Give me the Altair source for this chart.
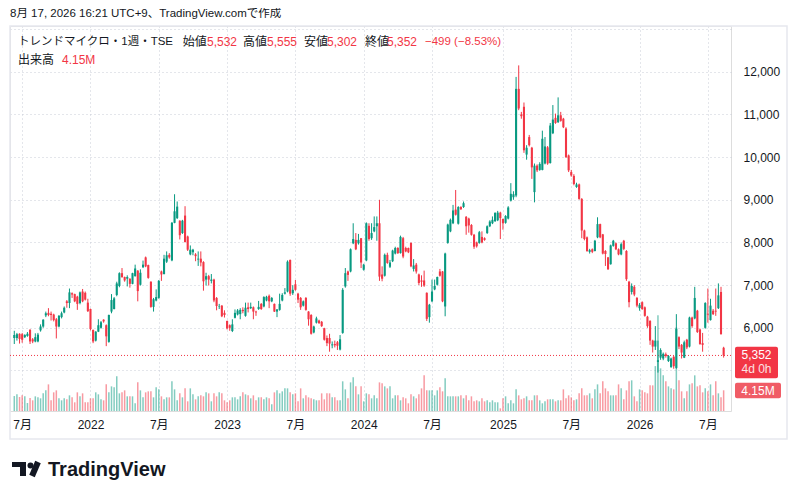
import altair as alt
import pandas as pd

# ---------------- data: weekly OHLC (open, high, low, close) from week of 2021-06-14 ----------------
ohlc_2021 = [
    (5760, 5930, 5620, 5830), (5760, 5880, 5700, 5850), (5860, 5870, 5630, 5740), (5850, 5880, 5650, 5720),
    (5780, 5850, 5760, 5830), (5810, 5900, 5790, 5860), (5950, 5970, 5620, 5680), (5730, 5760, 5640, 5680),
    (5680, 5870, 5660, 5780), (5680, 5880, 5660, 5840), (5940, 6080, 5910, 6030), (6030, 6200, 6000, 6190),
    (6290, 6380, 6250, 6340), (6350, 6460, 6270, 6300), (6330, 6380, 6170, 6300), (6310, 6330, 6150, 6180),
    (6200, 6230, 5750, 6030), (6030, 6300, 6010, 6280), (6250, 6380, 6220, 6340), (6360, 6500, 6340, 6470),
    (6620, 6650, 6470, 6580), (6580, 6920, 6460, 6830), (6810, 6830, 6700, 6780), (6790, 6800, 6600, 6620),
    (6730, 6750, 6420, 6560), (6580, 6850, 6550, 6830), (6850, 6910, 6600, 6620), (6820, 6850, 6640, 6660),
    (6590, 6680, 6370, 6390),
]
ohlc_2022 = [
    (6440, 6450, 5940, 5970), (5950, 5960, 5640, 5680), (5700, 5920, 5680, 5910), (5910, 6200, 5900, 6060),
    (6000, 6160, 5980, 6130), (6190, 6200, 6120, 6150), (6060, 6080, 5570, 5800), (5670, 6310, 5650, 6300),
    (6380, 6790, 6340, 6650), (6440, 6720, 6430, 6690), (6770, 7080, 6740, 7040), (6980, 7300, 6950, 7280),
    (7280, 7400, 7170, 7190), (7190, 7200, 7080, 7110), (7150, 7230, 6970, 7190), (7150, 7160, 6940, 7030),
    (7030, 7290, 7020, 7280), (7210, 7480, 7200, 7390), (7340, 7350, 6620, 6860), (7010, 7370, 6990, 7290),
    (7420, 7575, 7400, 7480), (7650, 7670, 7420, 7440), (7470, 7480, 7150, 7170), (7080, 7090, 6470, 6490),
    (6490, 6700, 6380, 6670), (6640, 6900, 6620, 6720), (6700, 7120, 6680, 7100), (7320, 7340, 7100, 7250),
    (7260, 7710, 7250, 7620), (7550, 7790, 7520, 7700), (7710, 7750, 7620, 7650), (7580, 8480, 7560, 8460),
    (8460, 9130, 8450, 8730), (8570, 8960, 8550, 8840), (8510, 8520, 8070, 8170), (8220, 8530, 8200, 8510),
    (8630, 8850, 8000, 8010), (8140, 8160, 7800, 7830), (7720, 7930, 7700, 7830), (7770, 7850, 7700, 7830),
    (7720, 7750, 7560, 7680), (7600, 7790, 7450, 7620), (7620, 7790, 7440, 7530), (7540, 7560, 6870, 7090),
    (7130, 7290, 6990, 7210), (7210, 7240, 6990, 7130), (7100, 7260, 7040, 7130), (7130, 7150, 6600, 6640),
    (6700, 6720, 6410, 6510), (6490, 6560, 6440, 6500), (6520, 6530, 6250, 6270), (6350, 6410, 6240, 6300),
]
ohlc_2023 = [
    (6160, 6170, 5960, 5985), (6060, 6080, 5930, 6000), (5925, 6200, 5900, 6080), (6234, 6430, 6220, 6350),
    (6312, 6440, 6290, 6406), (6320, 6460, 6200, 6420), (6420, 6480, 6340, 6390), (6280, 6590, 6260, 6470),
    (6480, 6590, 6360, 6440), (6460, 6590, 6440, 6490), (6480, 6500, 6200, 6380), (6380, 6400, 6280, 6360),
    (6440, 6630, 6420, 6490), (6560, 6580, 6420, 6440), (6500, 6740, 6480, 6720), (6640, 6750, 6620, 6730),
    (6750, 6780, 6460, 6620), (6620, 6720, 6600, 6700), (6560, 6570, 6370, 6380), (6380, 6440, 6250, 6430),
    (6420, 6800, 6400, 6560), (6640, 6810, 6620, 6770), (6800, 6930, 6780, 6830), (6850, 7580, 6830, 7550),
    (7590, 7600, 6750, 6800), (6810, 7000, 6770, 6890), (7020, 7120, 6870, 6890), (6800, 6820, 6580, 6660),
    (6700, 6720, 6420, 6480), (6520, 6640, 6500, 6620), (6700, 6720, 6400, 6420), (6380, 6390, 6050, 6200),
    (6300, 6320, 5840, 5860), (5890, 6050, 5870, 6030), (6120, 6260, 6100, 6220), (6170, 6190, 6090, 6110),
    (6140, 6160, 6020, 6040), (5990, 6000, 5700, 5720), (5760, 5820, 5570, 5640), (5760, 5860, 5440, 5630),
    (5590, 5680, 5520, 5610), (5620, 5700, 5540, 5590), (5660, 5690, 5480, 5580), (5490, 5830, 5470, 5730),
    (5880, 6930, 5860, 6890), (6970, 7400, 6940, 7280), (7320, 7340, 7100, 7240), (7320, 7860, 7300, 7840),
    (7980, 8450, 7960, 8080), (8060, 8220, 7820, 7840), (7980, 8200, 7950, 8060), (8100, 8100, 7400, 7530),
]
ohlc_2024 = [
    (7360, 7500, 7340, 7480), (7580, 8470, 7560, 8450), (8390, 8450, 8040, 8080), (8100, 8450, 8060, 8220),
    (8260, 8610, 8240, 8360), (8380, 8610, 8040, 8450), (8450, 9000, 7100, 7200), (7250, 7440, 7090, 7150),
    (7220, 7740, 7200, 7710), (7710, 7760, 7500, 7520), (7430, 7590, 7400, 7530), (7560, 7830, 7540, 7810),
    (7740, 7900, 7720, 7870), (7870, 7890, 7730, 7750), (7750, 8160, 7740, 8130), (8100, 8130, 7630, 7670),
    (7870, 7900, 7770, 7790), (7870, 7880, 7750, 7770), (7990, 8000, 7420, 7440), (7380, 7610, 7320, 7460),
    (7480, 7520, 7270, 7320), (7250, 7270, 7000, 7050), (7110, 7230, 6960, 7080), (7110, 7340, 6960, 6990),
    (6820, 6830, 6160, 6210), (6250, 6560, 6120, 6540), (6620, 7130, 6600, 6850), (6900, 7130, 6880, 6980),
    (7010, 7200, 6990, 7190), (7320, 7380, 7200, 7220), (7320, 7330, 6600, 6620), (6500, 7760, 6270, 7740),
    (7990, 8440, 7970, 8420), (8260, 8560, 8240, 8530), (8450, 8880, 8430, 8750), (8770, 9230, 8630, 8650),
    (8440, 8850, 8420, 8830), (8830, 8850, 8760, 8780), (8830, 8960, 8810, 8920), (8600, 8620, 8180, 8380),
    (8560, 8580, 8230, 8400), (8410, 8430, 8160, 8180), (8180, 8200, 7850, 7900), (8000, 8020, 7880, 7910),
    (7990, 8270, 7970, 8240), (8130, 8260, 7980, 8000), (8100, 8120, 8040, 8060), (8220, 8400, 8200, 8380),
    (8380, 8520, 8360, 8490), (8450, 8610, 8430, 8530), (8500, 8710, 8480, 8690), (8520, 8740, 8500, 8700),
    (8700, 8720, 8080, 8570),
]
ohlc_2025 = [
    (8550, 8560, 8300, 8450), (8460, 8640, 8440, 8620), (8560, 8850, 8540, 8820), (8980, 9390, 8960, 9140),
    (9060, 9200, 9000, 9130), (9100, 11880, 9060, 11600), (11600, 12150, 11100, 11140), (11000, 11060, 10900, 10960),
    (11180, 11280, 10100, 10160), (10060, 10280, 9940, 10220), (10470, 10520, 10250, 10280), (10220, 10240, 9490, 9760),
    (9180, 9850, 8940, 9800), (9800, 9830, 9650, 9690), (9700, 9880, 9680, 9840), (9700, 10620, 9690, 10430),
    (9850, 10470, 9830, 10250), (10230, 10260, 9820, 9850), (9860, 10800, 9850, 10740), (10560, 11220, 10540, 10880),
    (10920, 11020, 10780, 10800), (10820, 11400, 10800, 10980), (10980, 11060, 10830, 10850), (10900, 10920, 10680, 10700),
    (10670, 10700, 9980, 10000), (10040, 10060, 9650, 9690), (9650, 9700, 9540, 9570), (9560, 9600, 9340, 9370),
    (9300, 9400, 9280, 9360), (9360, 9380, 9000, 9020), (9020, 9040, 8100, 8280), (8280, 8300, 8050, 8080),
    (8120, 8140, 7780, 7800), (7780, 7850, 7740, 7820), (7840, 7860, 7750, 7780), (7800, 8060, 7790, 8040),
    (8120, 8590, 8100, 8430), (8430, 8440, 8100, 8120), (8190, 8200, 7720, 7740), (7800, 7820, 7450, 7730),
    (7650, 7660, 7360, 7370), (7490, 7950, 7480, 7930), (7920, 8060, 7900, 8040), (7980, 8000, 7820, 7840),
    (7840, 7860, 7700, 7720), (7720, 8000, 7700, 7960), (8040, 8060, 7820, 7850), (7800, 7820, 7100, 7140),
    (7080, 7100, 6480, 6600), (6840, 7040, 6780, 6980), (6960, 7000, 6740, 6780), (6700, 6720, 6480, 6520),
]
ohlc_2026 = [
    (6460, 6580, 6400, 6540), (6600, 6620, 6420, 6440), (6480, 6500, 6260, 6280), (6260, 6280, 6000, 6040),
    (6160, 6180, 5600, 5700), (5700, 5720, 5420, 5560), (5560, 6040, 5480, 5700), (5200, 5700, 4950, 5240),
    (5300, 5520, 5250, 5480), (5280, 5420, 5240, 5390), (5380, 5420, 5300, 5340), (5220, 5360, 5200, 5340),
    (5080, 5300, 5060, 5280), (5320, 5340, 5040, 5100), (5060, 6320, 5040, 5980), (5780, 5800, 5500, 5560),
    (5600, 5620, 5280, 5420), (5300, 5700, 5290, 5660), (5720, 5740, 5500, 5540), (5560, 6260, 5540, 6240),
    (6240, 6260, 6000, 6040), (6220, 6960, 6200, 6700), (6400, 6420, 5880, 5900), (5960, 5980, 5600, 5620),
    (5640, 5880, 5440, 5600), (6000, 6600, 5980, 6580), (6330, 6920, 6120, 6310), (6180, 6680, 6170, 6520),
    (6400, 6440, 6300, 6320), (6400, 6920, 6280, 6380), (6460, 7040, 6440, 6760), (6840, 6960, 5840, 5851),
    (5532, 5555, 5302, 5352),
]

# weekly volume, millions of shares
vol_2021 = [3.0, 3.34, 2.81, 3.14, 2.94, 1.60, 2.61, 2.14, 2.94, 2.74, 2.54, 3.54, 4.14, 5.34, 2.14,
            3.74, 4.14, 2.54, 2.14, 2.54, 2.34, 3.14, 2.74, 1.74, 3.74, 2.94, 3.54, 1.74, 1.74]
vol_2022 = [2.54, 2.54, 3.74, 3.34, 2.34, 2.14, 5.34, 3.74, 4.94, 4.74,
            6.95, 3.54, 3.74, 4.14, 2.94, 2.94, 2.94, 1.54, 5.74, 4.14,
            2.74, 3.74, 3.94, 3.94, 2.74, 4.74, 4.34, 2.94, 2.34, 2.74,
            2.74, 5.95, 4.34, 2.14, 3.54, 2.74, 4.54, 1.94, 4.54, 3.34,
            2.34, 2.94, 3.14, 2.94, 3.74, 3.54, 1.94, 3.54, 2.94, 3.74,
            3.54, 2.14]
vol_2023 = [1.74, 2.14, 2.74, 2.74, 2.34, 2.94, 3.74, 3.34, 3.14, 2.54,
            3.14, 2.14, 2.74, 2.74, 2.34, 2.74, 2.54, 1.34, 3.74, 4.14,
            3.54, 3.94, 4.54, 4.54, 3.74, 3.34, 3.54, 1.94, 4.54, 2.54,
            3.14, 2.74, 2.54, 2.34, 2.14, 2.14, 3.54, 2.34, 3.54, 3.54,
            2.74, 2.74, 2.14, 2.14, 5.95, 4.34, 2.54, 5.74, 6.75, 4.94,
            3.34, 4.94]
vol_2024 = [1.94, 3.54, 3.34, 2.54, 3.14, 2.54, 5.74, 5.54, 4.94, 4.54,
            4.94, 2.54, 3.14, 3.14, 2.14, 2.74, 2.54, 1.54, 3.34, 2.94,
            2.54, 3.34, 4.54, 7.15, 4.14, 4.14, 4.14, 3.14, 4.14, 4.74,
            3.94, 6.55, 2.94, 2.94, 2.94, 2.94, 2.94, 3.14, 2.54, 3.14,
            2.14, 2.94, 1.94, 2.14, 1.94, 2.54, 1.94, 2.14, 1.74, 2.14,
            1.74, 1.74, 0.53]
vol_2025 = [2.54, 2.94, 1.54, 2.14, 1.54, 4.34, 3.14, 2.34, 2.54, 2.94,
            2.14, 2.14, 3.14, 3.14, 2.14, 1.54, 1.94, 2.34, 2.34, 2.34,
            1.94, 2.14, 2.14, 4.34, 2.54, 3.14, 2.74, 2.14, 2.34, 3.54,
            4.54, 3.14, 3.14, 3.54, 2.54, 4.34, 5.34, 3.54, 5.95, 4.54,
            3.94, 3.14, 3.14, 3.14, 5.34, 4.54, 2.34, 4.14, 5.95, 6.15,
            2.94, 1.94]
vol_2026 = [4.34, 4.14, 3.74, 3.54, 5.14, 5.14, 9.0, 19.2, 8.55, 7.15,
            5.95, 4.94, 4.54, 4.34, 16.8, 6.15, 3.94, 2.54, 3.94, 5.34,
            5.54, 7.15, 4.94, 5.14, 3.74, 4.54, 3.94, 5.34, 3.14, 5.95,
            3.54, 2.74, 4.15]

first_week = "2021-06-14"
caption = "8月 17, 2026 16:21 UTC+9、TradingView.comで作成"
symbol_title = "トレンドマイクロ・1週・TSE"
price_ticks = [5000, 6000, 7000, 8000, 9000, 10000, 11000, 12000, 13000]

# ---------------- table ----------------
rows = ohlc_2021 + ohlc_2022 + ohlc_2023 + ohlc_2024 + ohlc_2025 + ohlc_2026
vols = vol_2021 + vol_2022 + vol_2023 + vol_2024 + vol_2025 + vol_2026
df = pd.DataFrame(rows, columns=["open", "high", "low", "close"])
df["vol"] = vols
df["i"] = range(len(df))
df["date"] = pd.date_range(first_week, periods=len(df), freq="7D")
df["dir"] = ["up" if c >= o else "down" for o, c in zip(df["open"], df["close"])]

# time ticks: first weekly bar of January / July
tick_idx, tick_lab, seen = [], [], set()
for i, d in zip(df["i"], df["date"]):
    if d.month in (1, 7) and (d.year, d.month) not in seen:
        seen.add((d.year, d.month))
        tick_idx.append(int(i))
        tick_lab.append(str(d.year) if d.month == 1 else "7月")
label_expr = "''"
for idx, lab in reversed(list(zip(tick_idx, tick_lab))):
    label_expr = f"datum.value == {idx} ? '{lab}' : ({label_expr})"

UP, DOWN = "#089981", "#F23645"
INK = "#131722"
GRID = "#c9cdd6"
FONT = "Liberation Sans, Noto Sans CJK JP, sans-serif"

W, H = 721, 385
x_scale = alt.Scale(domain=[0.27, 270.9], nice=False, zero=False)
p_scale = alt.Scale(domain=[4050, 13073], nice=False, zero=False)
v_scale = alt.Scale(domain=[0, 77.2], nice=False)
color = alt.Color("dir:N", scale=alt.Scale(domain=["up", "down"], range=[UP, DOWN]), legend=None)

x_axis = alt.Axis(values=tick_idx, labelExpr=label_expr, grid=True, gridColor=GRID, gridDash=[1, 3],
                  domain=False, ticks=False, labelPadding=8, labelFontSize=12, labelColor=INK,
                  labelFont=FONT, labelFlush=False, labelOverlap=False, labelAngle=0, title=None)
y_axis = alt.Axis(orient="right", values=price_ticks,
                  labelExpr="datum.value >= 6000 && datum.value <= 12000 ? format(datum.value, ',') : ''",
                  grid=True, gridColor=GRID, gridDash=[1, 3], domain=False, ticks=False,
                  labelPadding=12, labelAlign="left", labelFontSize=12, labelColor=INK,
                  labelFont=FONT, title=None)

X = alt.X("i:Q", scale=x_scale, axis=x_axis)
base = alt.Chart(df)

volume = base.mark_bar(size=1.5, opacity=0.5, clip=True).encode(
    x=X,
    y=alt.Y("vol:Q", scale=v_scale, axis=None),
    color=color,
)
wicks = base.mark_rule(strokeWidth=1, clip=True).encode(
    x=X,
    y=alt.Y("low:Q", scale=p_scale, axis=y_axis),
    y2="high:Q",
    color=color,
)
bodies = base.mark_bar(size=2.1, clip=True).encode(
    x=X,
    y=alt.Y("open:Q", scale=p_scale, axis=None),
    y2="close:Q",
    color=color,
)

last = df.iloc[-1]
prev_close = df.iloc[-2]["close"]
chg = last["close"] - prev_close
pct = chg / prev_close * 100
last_line = alt.Chart(pd.DataFrame({"p": [last["close"]]})).mark_rule(
    color=DOWN, strokeDash=[1, 2], strokeWidth=1).encode(
    y=alt.Y("p:Q", scale=p_scale, axis=None))

one = pd.DataFrame({"a": [0]})


def box(x1, x2, y1, y2, fill, radius=0, stroke=None):
    kw = dict(fill=fill, cornerRadius=radius)
    if stroke:
        kw = dict(fillOpacity=0, stroke=stroke, strokeWidth=1.5)
    return alt.Chart(one).mark_rect(**kw).encode(
        x=alt.value(x1), x2=alt.value(x2), y=alt.value(y1), y2=alt.value(y2))


def txt(s, x, y, color=INK, size=12, weight="normal", align="left", baseline="middle", opacity=1.0):
    return alt.Chart(pd.DataFrame({"t": [s]})).mark_text(
        align=align, baseline=baseline, fontSize=size, fontWeight=weight, font=FONT,
        color=color, opacity=opacity).encode(x=alt.value(x), y=alt.value(y), text="t:N")


def fmt(v):
    return f"{int(round(v)):,}"


frame = box(0, 777, 0, 413, "white", stroke="#e6e8ee")

price_tag = box(725, 768, 320.7, 352.3, DOWN, radius=2)
vol_tag = box(725, 771, 356.7, 372.3, "#f05c66", radius=2)

legend = [
    txt(symbol_title, 8, 15.7, size=11.5),
    txt("始値", 172.7, 15.7), txt(fmt(last["open"]), 197, 15.7, DOWN),
    txt("高値", 233, 15.7), txt(fmt(last["high"]), 257, 15.7, DOWN),
    txt("安値", 294, 15.7), txt(fmt(last["low"]), 317, 15.7, DOWN),
    txt("終値", 355, 15.7), txt(fmt(last["close"]), 377, 15.7, DOWN),
    txt(f"−{fmt(abs(chg))} (−{abs(pct):.2f}%)", 415, 15.7, DOWN, size=11.5),
    txt("出来高", 8, 34), txt(f"{last['vol']:.2f}M", 52, 34, DOWN),
    txt(caption, 0, -12, size=11.5),
    txt(fmt(last["close"]), 746.5, 329, "white", align="center"),
    txt("4d 0h", 746.5, 342.5, "white", align="center", opacity=0.85),
    txt(f"{last['vol']:.2f}M", 748, 365, "white", align="center"),
    txt("TradingView", 38, 450, "#131722", size=20, weight="bold", baseline="alphabetic"),
]

logo = [
    box(2, 16, 436, 441, "#131722"),
    box(10, 16, 436, 450, "#131722"),
    alt.Chart(one).mark_point(filled=True, size=36, color="#131722", opacity=1).encode(
        x=alt.value(20.5), y=alt.value(439.5)),
    alt.Chart(one).mark_rule(strokeWidth=6, color="#131722").encode(
        x=alt.value(28), x2=alt.value(22), y=alt.value(436), y2=alt.value(450)),
]

chart = alt.layer(
    frame, volume, last_line, wicks, bodies, price_tag, vol_tag, *legend, *logo
).resolve_scale(y="independent").properties(
    width=W, height=H,
    autosize=alt.AutoSizeParams(type="none"),
    padding={"left": 2, "top": 18, "right": 57, "bottom": 70},
).configure_view(stroke=None).configure(background="white", font=FONT)

chart.save("out.html", embed_options={"renderer": "svg", "actions": False})
